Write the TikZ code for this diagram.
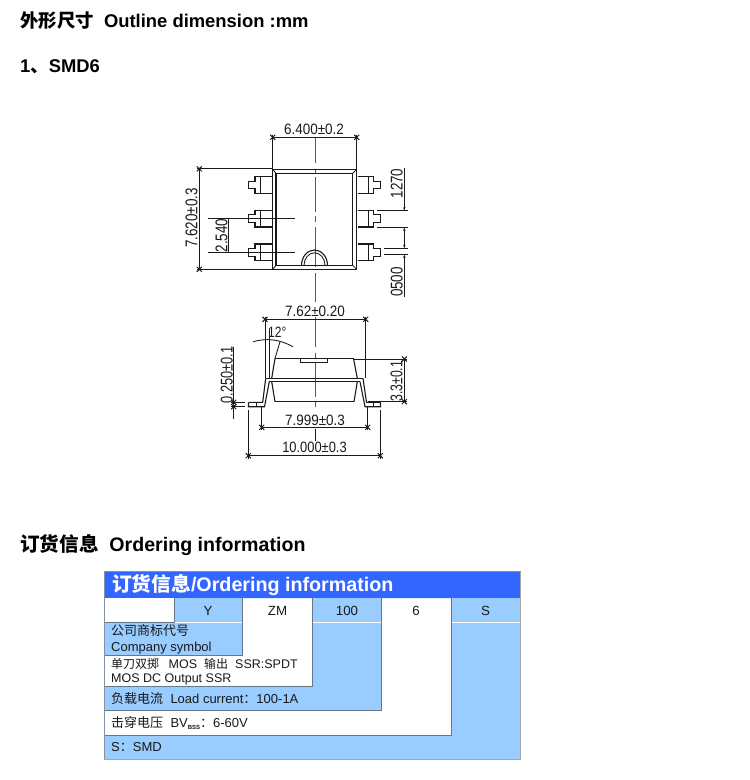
\documentclass[tikz,border=0pt]{standalone}
\usepackage{fontspec}
\usetikzlibrary{arrows.meta}
\setmainfont{Liberation Sans}
\newfontfamily\cjk{Noto Sans CJK SC}
\newcommand{\dtxt}[2][0.9]{\scalebox{#1}[1]{\fontsize{15}{15}\selectfont #2}}
\newcommand{\vtxt}[2][0.79]{\scalebox{#1}[1]{\fontsize{17}{17}\selectfont #2}}
\definecolor{lb}{HTML}{99CCFF}
\definecolor{hb}{HTML}{3366FF}
\definecolor{gl}{HTML}{667788}
\definecolor{ink}{HTML}{1A1A1A}
\tikzset{
  lin/.style={draw=ink,line width=1.1pt},
  thin line/.style={draw=ink,line width=0.85pt},
  ctr/.style={draw=black!65,line width=1pt},
  dimt/.style={inner sep=0pt,text=ink},
  cell/.style={inner sep=0pt,font=\fontsize{13.3}{13.3}\selectfont,text=black!90},
  lbl/.style={inner sep=0pt,anchor=west,font=\fontsize{13}{13}\selectfont,text=black!90},
  head/.style={inner sep=0pt,anchor=west,font=\bfseries},
  gridline/.style={draw=gl,line width=1pt},
  tip/.style={draw=ink,line width=0.85pt,-{Stealth[length=3.5pt,width=2.4pt]}},
}
\newcommand{\tk}[2]{\draw[ink,line width=1pt] (#1-2.5,#2-2.5)--(#1+2.5,#2+2.5) (#1-2.5,#2+2.5)--(#1+2.5,#2-2.5);}
\begin{document}
\begin{tikzpicture}[x=1pt,y=-1pt]
\useasboundingbox[fill=white] (0,0) rectangle (750,780);
% headings
\node[head] (t1) at (20,21) {\fontsize{18.4}{18.4}\selectfont{\cjk 外形尺寸}\ \ Outline dimension :mm};
\node[head] (t2) at (20,67) {\fontsize{18.4}{18.4}\selectfont 1{\cjk 、}SMD6};
\node[head] (t3) at (20,545) {\fontsize{19.6}{19.6}\selectfont{\cjk\bfseries 订货信息}\ \ Ordering information};
% ---------- top view
\draw[ctr] (315,138)--(315,163) (315,169)--(315,173) (315,177)--(315,212) (315,216)--(315,222) (315,227)--(315,267) (315,273)--(315,302);
\draw[lin,line width=1.3pt] (272.7,169.3) rectangle (356.7,269.3);
\draw[lin] (276,173.3) rectangle (352.7,265.3);
\draw[thin line] (272.7,169.3)--(276,173.3) (356.7,169.3)--(352.7,173.3) (272.7,269.3)--(276,265.3) (356.7,269.3)--(352.7,265.3);
\foreach \c in {185,218.7,252.3}{
  \draw[lin] (271.7,\c-8.3)--(255,\c-8.3)--(255,\c-3.8)--(248.3,\c-3.8)--(248.3,\c+3.8)--(255,\c+3.8)--(255,\c+8.3)--(271.7,\c+8.3);
  \draw[lin] (260.7,\c-8.3)--(260.7,\c+8.3);
  \draw[lin] (357.7,\c-8.3)--(373.3,\c-8.3)--(373.3,\c-3.8)--(380.7,\c-3.8)--(380.7,\c+3.8)--(373.3,\c+3.8)--(373.3,\c+8.3)--(357.7,\c+8.3);
  \draw[lin] (368.3,\c-8.3)--(368.3,\c+8.3);
}
% notch
\draw[lin] (301.5,265.3) arc[start angle=180,end angle=360,x radius=13,y radius=15.3];
\draw[thin line] (304,265.3) arc[start angle=180,end angle=360,x radius=10.5,y radius=12.5];
% centre lines of pins
\draw[thin line] (208,218.7)--(295,218.7) (208,252.3)--(295,252.3);
\draw[thin line] (228.3,218.7)--(228.3,252.3);
\node[dimt,rotate=90] (d2540) at (221.5,235.5) {\vtxt{2.540}};
% 6.400
\draw[thin line] (272.7,134.5)--(272.7,169.3) (356.7,134.5)--(356.7,169.3);
\draw[thin line] (272.7,137.3)--(356.7,137.3);
\tk{272.7}{137.3}\tk{356.7}{137.3}
\node[dimt] (d6400) at (314,129.5) {\dtxt{6.400±0.2}};
% 7.620
\draw[thin line] (196.5,168.8)--(272.7,168.8) (196.5,269.3)--(272.7,269.3);
\draw[thin line] (199.3,168.8)--(199.3,269.3);
\tk{199.3}{168.8}\tk{199.3}{269.3}
\node[dimt,rotate=90] (d7620) at (191.5,218) {\vtxt{7.620±0.3}};
% right dims
\draw[tip] (404.3,168)--(404.3,210.7);
\draw[tip,{Stealth[length=3.5pt,width=2.4pt]}-{Stealth[length=3.5pt,width=2.4pt]}] (404.3,227.5)--(404.3,248.3);
\draw[tip] (404.3,297)--(404.3,254.5);
\draw[thin line] (376.7,210.7)--(408,210.7) (376.7,227.5)--(408,227.5) (384.3,248.3)--(408,248.3) (384.3,254.5)--(408,254.5);
\node[dimt,rotate=90] (d1270) at (396.7,183.5) {\vtxt{1270}};
\node[dimt,rotate=90] (d0500) at (396.7,282) {\vtxt{0500}};
% ---------- side view
\draw[ctr] (315,317)--(315,347) (315,353)--(315,358) (315,363)--(315,397) (315,402)--(315,407);
\draw[thin line] (315,429)--(315,441);
% body
\draw[lin] (275,358.5)--(353.5,358.5);
\draw[lin] (275,401.7)--(354,401.7);
\draw[lin] (275,358.5)--(271.7,378.3) (271.7,381.7)--(275,401.7);
\draw[lin] (353.5,358.5)--(357.3,378.3) (357.3,381.7)--(354,401.7);
\draw[lin] (265.7,378.3)--(363,378.3);
\draw[lin] (269.3,381.7)--(360,381.7);
\draw[thin line,fill=white] (300.7,358.5) rectangle (327.3,362);
% leads
\draw[lin] (248.5,402.3)--(262.7,402.3)--(265.7,378.3);
\draw[lin] (248.5,402.3)--(248.5,406.7)--(264.5,406.7)--(269.3,381.7);
\draw[thin line] (256,402.3)--(256,406.7);
\draw[lin] (380.5,402.3)--(366.5,402.3)--(363,378.3);
\draw[lin] (380.5,402.3)--(380.5,406.7)--(365,406.7)--(360,381.7);
\draw[thin line] (373,402.3)--(373,406.7);
% 7.62
\draw[thin line] (265,316.5)--(265,378.3) (365.7,316.5)--(365.7,378.3) (269.3,329)--(269.3,378.3);
\draw[thin line] (265,319.3)--(365.7,319.3);
\tk{265}{319.3}\tk{365.7}{319.3}
\node[dimt] (d762) at (315,311.7) {\dtxt{7.62±0.20}};
% 12 deg
\draw[thin line] (253.3,341.7) .. controls (266,338) and (279,339) .. (293,346.7);
\draw[thin line] (280,341.7)--(275,358.5);
\node[dimt] (d12) at (277.3,332.7) {\dtxt[0.8]{12°}};
% 0.250
\draw[thin line] (233.7,346.7)--(233.7,419);
\draw[thin line] (231,402.3)--(245,402.3) (231,406.7)--(245,406.7);
\tk{233.7}{402.3}\tk{233.7}{406.7}
\node[dimt,rotate=90] (d250) at (226.7,375) {\vtxt[0.75]{0.250±0.1}};
% 3.3
\draw[thin line] (353.5,359)--(407,359) (368,401.7)--(407,401.7);
\draw[thin line] (404.3,359)--(404.3,401.7);
\tk{404.3}{359}\tk{404.3}{401.7}
\node[dimt,rotate=90] (d33) at (396.5,381.3) {\vtxt[0.72]{3.3±0.1}};
% 7.999
\draw[thin line] (261.7,406.7)--(261.7,430) (367.7,406.7)--(367.7,430);
\draw[thin line] (261.7,427.3)--(367.7,427.3);
\tk{261.7}{427.3}\tk{367.7}{427.3}
\node[dimt] (d7999) at (315,420) {\dtxt{7.999±0.3}};
% 10.000
\draw[thin line] (248.3,410)--(248.3,459) (380.3,410)--(380.3,459);
\draw[thin line] (248.3,455.7)--(380.3,455.7);
\tk{248.3}{455.7}\tk{380.3}{455.7}
\node[dimt] (d10) at (314.5,447.3) {\dtxt[0.86]{10.000±0.3}};
% ---------- table
\fill[lb] (104,598.3) rectangle (520,759.3);
\fill[hb] (104,571.7) rectangle (520,598.3);
\fill[white] (381.7,598.3) rectangle (451,735) (104,710.7) rectangle (451,735);
\fill[lb] (312.7,598.3) rectangle (381.7,710.7) (104,686.7) rectangle (381.7,710.7);
\fill[white] (242.7,598.3) rectangle (312.7,686.7) (104,655) rectangle (312.7,686.7);
\fill[lb] (174,598.3) rectangle (242.7,655) (104,622.3) rectangle (242.7,655);
\fill[white] (104,598.3) rectangle (174,622.3);
\draw[white,line width=0.4pt] (174,622.3)--(242.7,622.3) (312.7,622.3)--(381.7,622.3) (451,622.3)--(520,622.3);
\draw[gridline] (174,598.3)--(174,622.3)--(104,622.3);
\draw[gridline] (242.7,598.3)--(242.7,655)--(104,655);
\draw[gridline] (312.7,598.3)--(312.7,686.7)--(104,686.7);
\draw[gridline] (381.7,598.3)--(381.7,710.7)--(104,710.7);
\draw[gridline] (451,598.3)--(451,735)--(104,735);
\draw[draw=gl!80,line width=1pt] (104,571.7) rectangle (520,759.3);
\draw[draw=gray!70,line width=1.2pt] (520.5,571.7)--(520.5,759.8)--(104,759.8);
\node[inner sep=0pt,anchor=west,text=white,font=\bfseries] (hd) at (112,585) {\fontsize{19.7}{19.7}\selectfont{\cjk\bfseries 订货信息}/Ordering information};
\node[cell] (cy) at (208,611) {Y};
\node[cell] (cz) at (277.5,611) {ZM};
\node[cell] (c1) at (347,611) {100};
\node[cell] (c6) at (416,611) {6};
\node[cell] (cs) at (485.5,611) {S};
\node[lbl] (a1) at (111,631) {{\cjk 公司商标代号}};
\node[lbl] (a2) at (111,647.7) {Company symbol};
\node[lbl] (b1) at (111,664) {{\fontsize{12}{12}\selectfont\cjk 单刀双掷}\hspace{9.5pt}{\fontsize{12.5}{12.5}\selectfont MOS}\hspace{7pt}{\fontsize{12}{12}\selectfont\cjk 输出}\hspace{7pt}{\fontsize{12.5}{12.5}\selectfont SSR:SPDT}};
\node[lbl,font=\fontsize{12.5}{12.5}\selectfont] (b2) at (111,679) {MOS DC Output SSR};
\node[lbl] (c) at (111,699) {{\cjk 负载电流}\hspace{7.3pt}Load current{\cjk ：}100-1A};
\node[lbl] (d) at (111,723.3) {{\cjk 击穿电压}\hspace{7.3pt}BV\raisebox{-2pt}{\fontsize{6}{6}\selectfont\bfseries BSS}{\cjk ：}6-60V};
\node[lbl] (e) at (111,747.3) {S{\cjk ：}SMD};
\end{tikzpicture}
\end{document}
